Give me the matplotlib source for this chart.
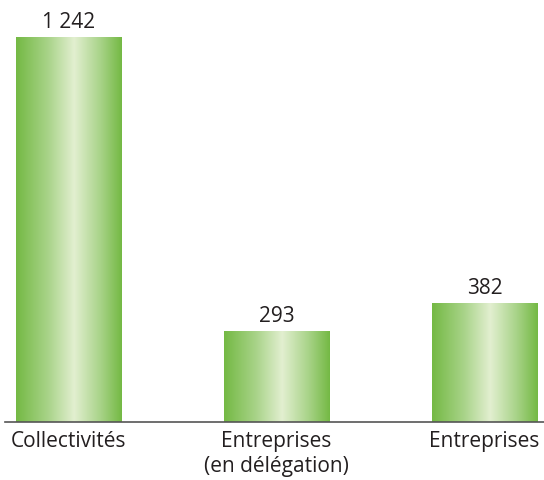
import numpy as np
import matplotlib
matplotlib.use("Agg")
import matplotlib.pyplot as plt
from matplotlib.colors import LinearSegmentedColormap

categories = ["Collectivités", "Entreprises\n(en délégation)", "Entreprises"]
values = [1242, 293, 382]
value_labels = ["1 242", "293", "382"]

plt.rcParams['font.family'] = ['Open Sans', 'DejaVu Sans']

fig = plt.figure(figsize=(5.44, 4.81), dpi=100)
ax = fig.add_axes([5/544, 58/481, 539/544, 423/481])

cmap = LinearSegmentedColormap.from_list(
    "g", [(0.0, "#74b944"), (0.3, "#a8d388"), (0.55, "#e2efd0"), (0.8, "#a8d388"), (1.0, "#74b944")])
grad = np.linspace(0, 1, 256).reshape(1, -1)

width = 0.505
xs = np.arange(len(values))
for x, v, lab in zip(xs, values, value_labels):
    ax.imshow(grad, cmap=cmap, aspect="auto",
              extent=(x - width/2, x + width/2, 0, v), zorder=2)
    ax.annotate(lab, (x, v), xytext=(0, 4), textcoords="offset points",
                ha="center", va="bottom", fontsize=15, color="#231f20")

ax.set_xlim(-0.305, 2.286)
ax.set_ylim(0, 1366)
ax.set_xticks(xs)
ax.set_xticklabels(categories, fontsize=15, color="#231f20", linespacing=1.2)
ax.tick_params(axis="x", length=0, pad=6)
ax.set_yticks([])
for s in ["top", "right", "left"]:
    ax.spines[s].set_visible(False)
ax.spines["bottom"].set_color("#555555")
ax.spines["bottom"].set_linewidth(1.2)
ax.spines["bottom"].set_zorder(3)

fig.savefig("out.png", dpi=100)
